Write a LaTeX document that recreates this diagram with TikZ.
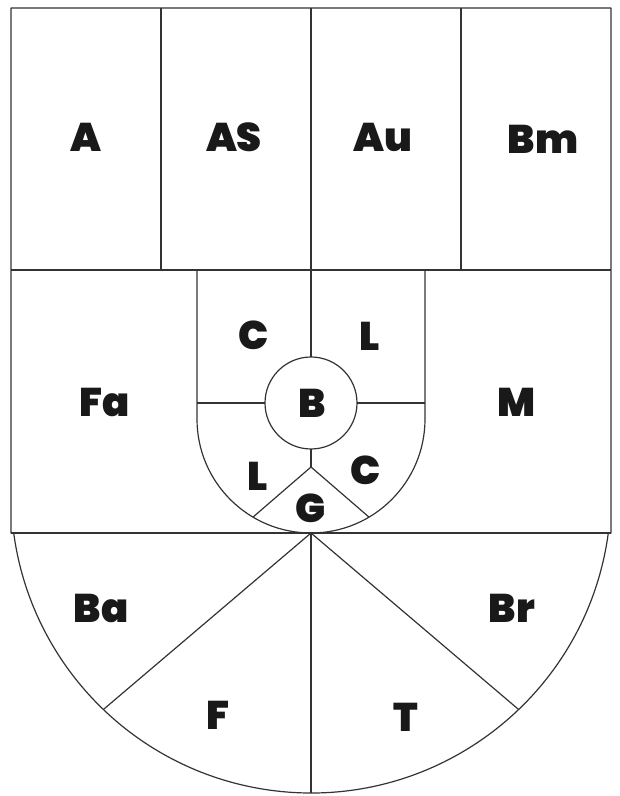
\documentclass[tikz,border=0pt]{standalone}
\usepackage{fontspec}
\usetikzlibrary{calc}
\newfontfamily\labfont{Poppins Black}
\tikzset{
  edge/.style={draw=black!80, line width=1.2pt, line join=round},
  lab/.style={font=\labfont\fontsize{40}{40}\selectfont, text=black!90, inner sep=0pt}
}
\begin{document}
\begin{tikzpicture}[x=1pt,y=1pt]
\useasboundingbox (0,0) rectangle (620,796);
% key points
\coordinate (tl) at (11,788);
\coordinate (tr) at (611,788);
\coordinate (ml) at (11,526);
\coordinate (mr) at (611,526);
\coordinate (bl) at (11,263);
\coordinate (br) at (611,263);
\coordinate (oc) at (311,303);   % outer arc centre
\coordinate (ic) at (311,377);   % inner arc centre
\coordinate (bc) at (311,393);   % circle B centre
\coordinate (g) at (311,329);    % G apex
\coordinate (hub) at (311,263);  % fan hub
% outer shield
\draw[edge] (bl) -- (tl) -- (tr) -- (br) -- ($(oc)+(-7.66:300)$)
  arc[start angle=-7.66, end angle=-172.34, radius=300] -- cycle;
\draw[edge] (ml) -- (mr);
\draw[edge] (bl) -- (br);
% top band dividers
\draw[edge] (161,788) -- (161,526);
\draw[edge] (311,788) -- (311,526);
\draw[edge] (461,788) -- (461,526);
% inner U
\draw[edge] (197,526) -- (197,377) arc[start angle=180, end angle=360, radius=114] -- (425,526);
% circle B
\draw[edge] (bc) circle[radius=46];
\draw[edge] (311,526) -- ($(bc)+(0,46)$);
\draw[edge] (197,393) -- ($(bc)+(-46,0)$);
\draw[edge] ($(bc)+(46,0)$) -- (425,393);
\draw[edge] ($(bc)+(0,-46)$) -- (g);
\draw[edge] ($(ic)+(239.4:114)$) -- (g) -- ($(ic)+(300.6:114)$);
% fan
\draw[edge] ($(oc)+(226.2:300)$) -- (hub) -- ($(oc)+(313.8:300)$);
\draw[edge] (hub) -- (311,3);
% labels
\node[lab] (nA) at (86,659) {A};
\node[lab] (nAS) at (234,659) {AS};
\node[lab] (nAu) at (383,659) {Au};
\node[lab] (nBm) at (543,657) {Bm};
\node[lab] (nFa) at (105,394) {Fa};
\node[lab] (nM) at (517,394) {M};
\node[lab] (nC1) at (254,461) {C};
\node[lab] (nL1) at (370,460) {L};
\node[lab] (nB) at (312,393) {B};
\node[lab] (nL2) at (258,320) {L};
\node[lab] (nC2) at (366,326) {C};
\node[lab] (nG) at (311,288) {G};
\node[lab] (nBa) at (101,188) {Ba};
\node[lab] (nBr) at (512,188) {Br};
\node[lab] (nF) at (218,81) {F};
\node[lab] (nT) at (406,79) {T};
\end{tikzpicture}
\end{document}
